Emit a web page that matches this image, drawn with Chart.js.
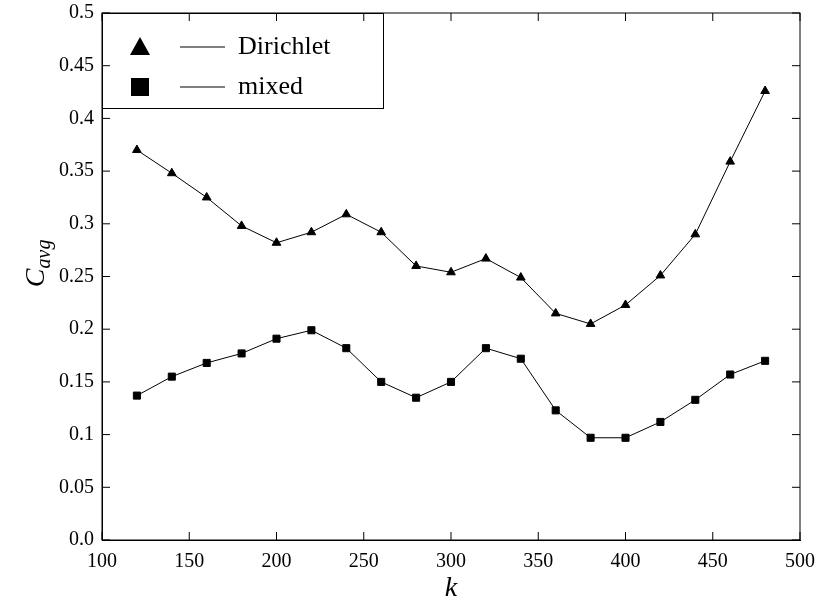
<!DOCTYPE html>
<html><head><script src="https://cdn.jsdelivr.net/npm/chart.js@4/dist/chart.umd.min.js"></script>
<style>body{margin:0;background:#fff}#w{width:832px;height:602px}</style></head>
<body><div id="w"><canvas id="c"></canvas></div>
<script>
const kValues=[120,140,160,180,200,220,240,260,280,300,320,340,360,380,400,420,440,460,480];
const dirichlet=[0.370,0.348,0.325,0.298,0.282,0.292,0.309,0.292,0.260,0.254,0.267,0.249,0.215,0.205,0.223,0.251,0.290,0.359,0.426];
const mixed=[0.137,0.155,0.168,0.177,0.191,0.199,0.182,0.150,0.135,0.150,0.182,0.172,0.123,0.097,0.097,0.112,0.133,0.157,0.170];
const F='"Liberation Serif","DejaVu Serif",serif';
const titles={id:'titles',afterDraw(ch){const c=ch.ctx,a=ch.chartArea;c.save();c.fillStyle='#000';
c.translate(36,(a.top+a.bottom)/2);c.rotate(-Math.PI/2);c.font='italic 28px '+F;c.textAlign='right';c.textBaseline='alphabetic';
c.fillText('C',8,8);c.font='italic 20px '+F;c.textAlign='left';c.fillText('avg',8,14);c.restore();
c.save();c.font='italic 28px '+F;c.textAlign='center';c.fillText('k',(a.left+a.right)/2,596);
c.fillStyle='#fff';c.strokeStyle='#000';c.lineWidth=1;c.fillRect(a.left,a.top,281,95);c.strokeRect(a.left+0.5,a.top+0.5,281,95);
c.fillStyle='#000';c.font='26px '+F;c.textAlign='left';c.textBaseline='middle';
const rows=[['Dirichlet','tri',a.top+34],['mixed','sq',a.top+74]];
for(const[r,t,y] of rows){c.beginPath();if(t=='tri'){c.moveTo(140,y-10);c.lineTo(150,y+8);c.lineTo(130,y+8);c.closePath();c.fill();}else{c.fillRect(131,y-9,18,18);}
c.beginPath();c.moveTo(180,y);c.lineTo(225,y);c.stroke();c.fillText(r,238,y);}
c.restore();}};
new Chart(document.getElementById('c'),{type:'line',
data:{labels:kValues,datasets:[
{data:kValues.map((k,i)=>({x:k,y:dirichlet[i]})),borderColor:'#000',backgroundColor:'#000',borderWidth:1,pointStyle:'triangle',pointRadius:5,tension:0},
{data:kValues.map((k,i)=>({x:k,y:mixed[i]})),borderColor:'#000',backgroundColor:'#000',borderWidth:1,pointStyle:'rect',pointRadius:5,tension:0}]},
options:{responsive:true,maintainAspectRatio:false,animation:false,layout:{padding:{top:13,right:32}},
plugins:{legend:{display:false},tooltip:{enabled:false}},
scales:{x:{type:'linear',min:100,max:500,afterFit(s){s.height=62;s.paddingLeft=0;s.paddingRight=0},ticks:{stepSize:50,color:'#000',font:{family:F,size:20},maxRotation:0,padding:10},grid:{display:false,drawTicks:false},border:{color:'#000'}},
y:{min:0,max:0.5,afterFit(s){s.width=102;s.paddingTop=0;s.paddingBottom=0},ticks:{stepSize:0.05,color:'#000',font:{family:F,size:20},padding:8,callback:v=>{const r=Math.round(v*100)/100;return r===0?'0.0':String(r)}},grid:{display:false,drawTicks:false},border:{color:'#000'}}}},
plugins:[titles,{id:'box',afterDraw(ch){const c=ch.ctx,a=ch.chartArea;c.save();c.strokeStyle='#000';c.lineWidth=1;c.strokeRect(a.left,a.top,a.right-a.left,a.bottom-a.top);
c.beginPath();for(let v=100;v<=500;v+=50){const x=ch.scales.x.getPixelForValue(v);c.moveTo(x,a.bottom);c.lineTo(x,a.bottom-8);c.moveTo(x,a.top);c.lineTo(x,a.top+8);}
for(let v=0;v<=0.5001;v+=0.05){const y=ch.scales.y.getPixelForValue(v);c.moveTo(a.left,y);c.lineTo(a.left+8,y);c.moveTo(a.right,y);c.lineTo(a.right-8,y);}c.stroke();c.restore();}}]});
</script></body></html>
